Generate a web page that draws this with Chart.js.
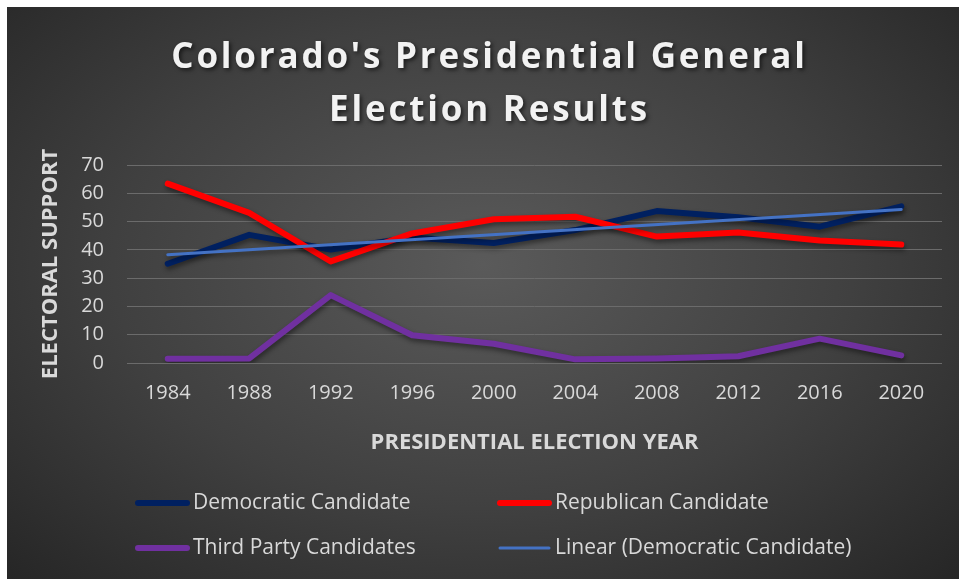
<!DOCTYPE html>
<html>
<head>
<meta charset="utf-8">
<script src="https://cdn.jsdelivr.net/npm/chart.js@4.4.0/dist/chart.umd.min.js"></script>
<style>
    body { margin: 0; background: #ffffff; }
    #wrap {
        position: absolute; left: 7px; top: 7px; width: 952px; height: 572px;
        background: radial-gradient(ellipse at 50% 45%, #5a5a5a 0%, #404040 55%, #262626 100%);
    }
</style>
</head>
<body>
<div id="wrap"><canvas id="electionChart" width="952" height="572"></canvas></div>
<script>
const years = ["1984", "1988", "1992", "1996", "2000", "2004", "2008", "2012", "2016", "2020"];
const democratic = [35.1, 45.3, 40.1, 44.4, 42.4, 47.0, 53.7, 51.5, 48.2, 55.4];
const republican = [63.4, 53.1, 35.9, 45.8, 50.8, 51.7, 44.7, 46.1, 43.3, 41.9];
const thirdParty = [1.5, 1.6, 24.0, 9.8, 6.8, 1.3, 1.6, 2.4, 8.6, 2.7];
// trend line: only its two ends
const democraticTrend = [38.3, null, null, null, null, null, null, null, null, 54.3];
const yTicks = [0, 10, 20, 30, 40, 50, 60, 70];

const textColor = "#d9d9d9";

// legend in two fixed columns like the original
const gridLegend = {
    id: "gridLegend",
    afterDraw(chart) {
        const c = chart.ctx;
        const cols = [128, 490];
        const rows = [496, 541];
        c.save();
        c.font = "21px 'Open Sans'";
        c.textBaseline = "middle";
        c.fillStyle = textColor;
        chart.data.datasets.forEach(function(ds, i){
            const x = cols[i % 2];
            const y = rows[Math.floor(i / 2)];
            c.beginPath();
            c.lineCap = "round";
            c.strokeStyle = ds.borderColor;
            c.lineWidth = ds.borderWidth;
            c.moveTo(x + 3, y);
            c.lineTo(x + 52, y);
            c.stroke();
            c.fillText(ds.label, x + 58, y);
        });
        c.restore();
    }
};

// soft shadow under the lines
const lineShadow = {
    id: "lineShadow",
    beforeDatasetsDraw(chart) {
        const c = chart.ctx;
        c.save();
        c.shadowColor = "rgba(0,0,0,0.45)";
        c.shadowBlur = 5;
        c.shadowOffsetX = 1;
        c.shadowOffsetY = 3;
    },
    afterDatasetsDraw(chart) {
        chart.ctx.restore();
    }
};

const ctx = document.getElementById("electionChart");
const myChart = new Chart(ctx, {
    type: "line",
    data: {
        labels: years,
        datasets: [{
            label: "Democratic Candidate",
            data: democratic,
            borderColor: "#002060",
            borderWidth: 6,
            order: 4
        }, {
            label: "Republican Candidate",
            data: republican,
            borderColor: "#ff0000",
            borderWidth: 6,
            order: 3
        }, {
            label: "Third Party Candidates",
            data: thirdParty,
            borderColor: "#7030a0",
            borderWidth: 6,
            order: 2
        }, {
            label: "Linear (Democratic Candidate)",
            data: democraticTrend,
            borderColor: "#4472c4",
            borderWidth: 3,
            spanGaps: true,
            order: 1
        }]
    },
    options: {
        responsive: false,
        animation: false,
        elements: {
            point: { radius: 0 },
            line: { tension: 0, borderCapStyle: "round", borderJoinStyle: "round" }
        },
        layout: { padding: { left: 0, right: 17, top: 0, bottom: 116 } },
        plugins: {
            legend: { display: false },
            tooltip: { enabled: false },
            title: {
                display: true,
                text: ["Colorado's Presidential General", "Election Results"],
                color: "#f2f2f2",
                font: { family: "'Open Sans'", size: 35, weight: "bold", lineHeight: 1.5 },
                padding: { top: 25, bottom: 28 }
            }
        },
        scales: {
            x: {
                offset: true,
                grid: { display: false, drawTicks: false },
                border: { display: false },
                ticks: { color: textColor, font: { family: "'Open Sans'", size: 20 }, padding: 18, maxRotation: 0 },
                title: {
                    display: true,
                    text: "PRESIDENTIAL ELECTION YEAR",
                    color: textColor,
                    font: { family: "'Open Sans'", size: 22, weight: "bold" },
                    padding: { top: 0, bottom: 7 }
                },
                afterFit: function(s){ s.height = 100; }
            },
            y: {
                min: 0,
                max: 70,
                afterBuildTicks: function(s){ s.ticks = yTicks.map(v => ({ value: v })); },
                grid: { color: "#6b6b6b", lineWidth: 1, drawTicks: false },
                border: { display: false },
                ticks: { color: textColor, font: { family: "'Open Sans'", size: 20 }, padding: 23 },
                title: {
                    display: true,
                    text: "ELECTORAL SUPPORT",
                    color: textColor,
                    font: { family: "'Open Sans'", size: 22, weight: "bold" },
                    padding: { top: 31, bottom: 0 }
                },
                afterFit: function(s){ s.width = 120; }
            }
        }
    },
    plugins: [gridLegend, lineShadow]
});

// wider letter spacing and a drop shadow on the title, as in the original
const tb = myChart.titleBlock;
const origTitleDraw = tb.draw.bind(tb);
tb.draw = function(){
    const c = this.ctx;
    c.save();
    c.translate(15, 0);
    c.letterSpacing = "2.8px";
    c.shadowColor = "rgba(0,0,0,0.6)";
    c.shadowBlur = 4;
    c.shadowOffsetX = 2;
    c.shadowOffsetY = 2;
    origTitleDraw();
    c.restore();
};
myChart.draw();
</script>
</body>
</html>
